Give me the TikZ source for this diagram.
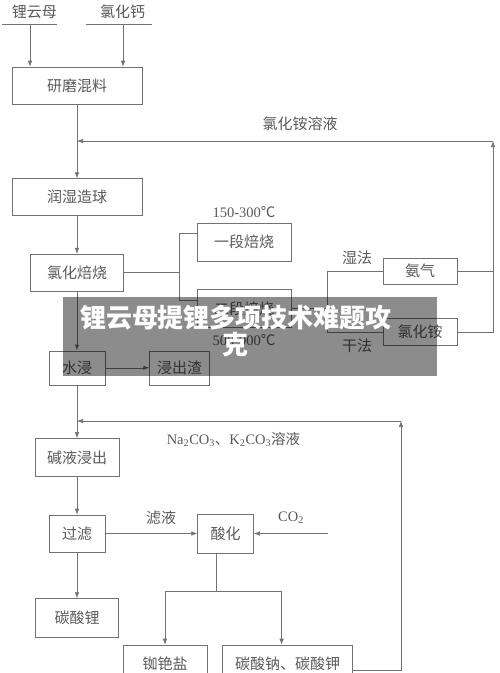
\documentclass[tikz,border=0pt]{standalone}
\usepackage{fontspec}
\setmainfont{Liberation Serif}
\newfontfamily\cjk{Noto Sans CJK SC}
\usetikzlibrary{positioning, calc, arrows.meta}
\definecolor{linegray}{gray}{0.45}
\definecolor{textgray}{gray}{0.35}

\begin{document}
\begin{tikzpicture}[
          x=1pt, y=-1pt,
          node distance=38pt,
          block/.style={
              rectangle, draw=linegray, line width=0.6pt, align=center,
              inner sep=0pt, minimum height=37pt, text=textgray,
              font=\cjk\fontsize{15}{17}\selectfont
          },
          tag/.style={inner sep=0pt, text=textgray, font=\cjk\fontsize{15}{17}\selectfont},
          numtag/.style={inner sep=0pt, text=textgray, font=\fontsize{14.5}{16}\selectfont},
          link/.style={draw=linegray, line width=0.6pt},
          >={Latex[length=6pt, width=4.5pt]},
      ]
          \useasboundingbox (0,0) rectangle (500,673);
          \clip (0,0) rectangle (500,673);

          % Raw materials
          \node [tag] (lepid) at (34.5,12) {锂云母};
          \node [tag] (cacl) at (122.5,12) {氯化钙};
          \draw [link] (2,24) -- (57,24);
          \draw [link] (86,24) -- (152,24);
          \coordinate (lepidbar) at (30,24);
          \coordinate (caclbar) at (123,24);

          % Main column
          \node [block, minimum width=130pt] (mix) at (77,85.5) {研磨混料};
          \node [block, minimum width=130pt, below=74pt of mix] (pellet) {润湿造球};
          \node [block, minimum width=93pt, below=38pt of pellet] (roast) {氯化焙烧};
          \node [block, minimum width=56pt, minimum height=34pt, below=59pt of roast] (leach) {水浸};
          \node [block, minimum width=60pt, minimum height=34pt, right=44pt of leach] (residue) {浸出渣};
          \node [block, minimum width=84pt, minimum height=38pt, below=53pt of leach] (alkali) {碱液浸出};
          \node [block, minimum width=56pt, below=38pt of alkali] (filter) {过滤};
          \node [block, minimum width=56pt, minimum height=39pt, right=92pt of filter] (acid) {酸化};
          \node [block, minimum width=83pt, minimum height=39pt, below=46pt of filter] (li2co3) {碳酸锂};
          \node [block, minimum width=84pt, minimum height=38pt] (rbcs) at (165,664) {铷铯盐};
          \node [block, minimum width=130pt, minimum height=38pt, right=15pt of rbcs] (nakco) {碳酸钠、碳酸钾};

          % Roasting branches
          \node [block, minimum width=94pt, minimum height=38pt] (stage1) at (244,242) {一段焙烧};
          \node [block, minimum width=94pt, minimum height=38pt, below=28pt of stage1] (stage2) {二段焙烧};
          \node [block, minimum width=74pt, minimum height=26pt] (ammonia) at (420,271) {氨气};
          \node [block, minimum width=74pt, minimum height=27pt, below=34pt of ammonia] (nh4cl) {氯化铵};

          % Labels
          \node [tag] (nh4clsol) at (300,124) {氯化铵溶液};
          \node [numtag, above=5pt of stage1] (temp1) {150-300{\cjk ℃}};
          \node [numtag, below=6pt of stage2] (temp2) {500-900{\cjk ℃}};
          \node [tag] (wet) at (357,258) {湿法};
          \node [tag] (dry) at (357,346) {干法};
          \node [tag] (filtrate) at (161,518) {滤液};
          \node [numtag] (co2) at (291,518) {CO\textsubscript{2}};
          \node [numtag] (carbsol) at (233.5,439) {Na\textsubscript{2}CO\textsubscript{3}{\cjk 、}K\textsubscript{2}CO\textsubscript{3}{\cjk 溶液}};

          % Arrows, upper part
          \draw [link, ->] (lepidbar) -- (lepidbar |- mix.north);
          \draw [link, ->] (caclbar) -- (caclbar |- mix.north);
          \draw [link, ->] (mix) -- (pellet);
          \draw [link, ->] (pellet) -- (roast);

          \coordinate (fork) at ($(roast.east)+(55,0)$);
          \coordinate (in1) at ($(stage1.west)+(0,-9)$);
          \coordinate (in2) at ($(stage2.west)+(0,-8)$);
          \draw [link] (roast.east) -- (fork);
          \draw [link] (in1) -| (fork) |- (in2);

          \coordinate (wetdry) at ($(stage2.east)+(36,0)$);
          \draw [link] (stage2.east) -- (wetdry);
          \draw [link] (ammonia.west) -| (wetdry) |- (nh4cl.west);

          \coordinate (back1) at (493,141);
          \draw [link] (ammonia.east) -- (ammonia.east -| back1);
          \draw [link, ->] (nh4cl.east) -| (back1);
          \draw [link, ->] (back1) -- (mix.south |- back1);

          % Arrows, lower part
          \draw [link, ->] (roast) -- (leach);
          \draw [link, ->] (leach) -- (residue);
          \draw [link, ->] (leach) -- (alkali);
          \draw [link, ->] (alkali) -- (filter);
          \draw [link, ->] (filter) -- (acid);
          \draw [link, ->] (filter) -- (li2co3);

          \coordinate (co2in) at ($(acid.east)+(74,0)$);
          \draw [link, ->] (co2in) -- (acid.east);

          \coordinate (acidout) at ($(acid.south)+(-9,38)$);
          \coordinate (tonak) at ($(nakco.north)+(-6,0)$);
          \draw [link] ($(acid.south)+(-9,0)$) -- (acidout);
          \draw [link, ->] (acidout) -| (rbcs.north);
          \draw [link, ->] (acidout) -| (tonak);

          \coordinate (back2) at (401,421);
          \draw [link, ->] ($(nakco.east)+(0,6)$) -| (back2);
          \draw [link, ->] (back2) -- (leach.south |- back2);

          % Banner
          \fill [black, opacity=0.45] (63,297) rectangle (437,376);
          \node [text=white, align=center, inner sep=0pt,
              font=\cjk\bfseries\fontsize{26}{27}\selectfont] (banner) at (236,331)
              {锂云母提锂多项技术难题攻\\克};
        \end{tikzpicture}
\end{document}
